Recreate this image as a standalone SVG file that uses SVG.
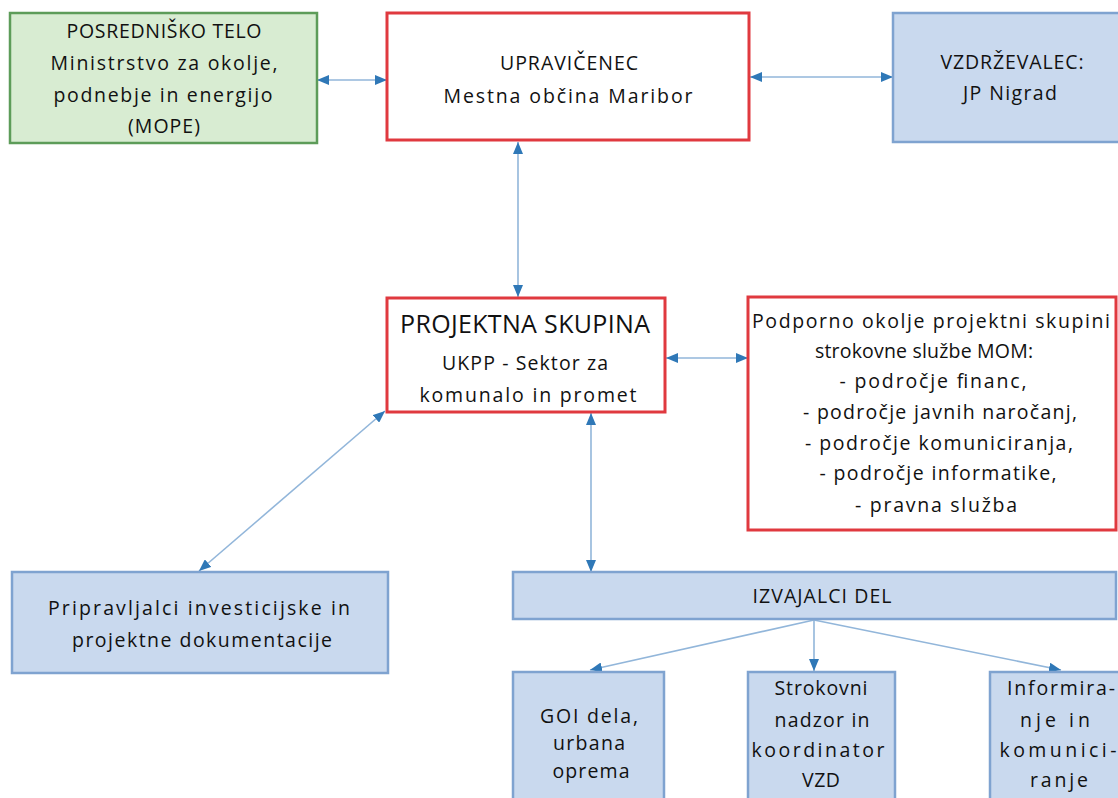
<svg xmlns="http://www.w3.org/2000/svg" width="1118" height="798" viewBox="0 0 1118 798">
<style>
text{font-family:"Open Sans","Liberation Sans",sans-serif;font-size:19.5px;fill:#111111;text-anchor:middle}
.big{font-size:25px}
.green{fill:#d8ecd2;stroke:#5d9c59;stroke-width:2.5}
.red{fill:#ffffff;stroke:#e0393f;stroke-width:3}
.blue{fill:#c9d9ee;stroke:#7fa3d0;stroke-width:2.5}
.con{stroke:#92b6da;stroke-width:1.6;fill:none}
</style>
<defs>
<marker id="ah" viewBox="0 0 12 10" refX="12" refY="5" markerWidth="12" markerHeight="10" markerUnits="userSpaceOnUse" orient="auto-start-reverse">
<path d="M0,0 L12,5 L0,10 z" fill="#2f78b7"/>
</marker>
</defs>
<rect width="1118" height="798" fill="#ffffff"/>
<g id="connectors">
<line class="con" x1="317" y1="80" x2="387" y2="80" marker-start="url(#ah)" marker-end="url(#ah)"/>
<line class="con" x1="750" y1="77" x2="893" y2="77" marker-start="url(#ah)" marker-end="url(#ah)"/>
<line class="con" x1="518" y1="142" x2="518" y2="297" marker-start="url(#ah)" marker-end="url(#ah)"/>
<line class="con" x1="666" y1="358" x2="748" y2="358" marker-start="url(#ah)" marker-end="url(#ah)"/>
<line class="con" x1="385" y1="411" x2="199" y2="571" marker-start="url(#ah)" marker-end="url(#ah)"/>
<line class="con" x1="591" y1="413" x2="591" y2="572" marker-start="url(#ah)" marker-end="url(#ah)"/>
<line class="con" x1="814" y1="620" x2="590" y2="670" marker-end="url(#ah)"/>
<line class="con" x1="814" y1="620" x2="814" y2="671" marker-end="url(#ah)"/>
<line class="con" x1="814" y1="620" x2="1061" y2="670" marker-end="url(#ah)"/>
</g>
<g id="posredniskoTelo">
<rect class="green" x="10" y="13" width="307" height="130"/>
<text x="164" y="38" textLength="195" lengthAdjust="spacing">POSREDNIŠKO TELO</text>
<text x="164" y="70" textLength="227" lengthAdjust="spacing">Ministrstvo za okolje,</text>
<text x="163" y="102" textLength="219" lengthAdjust="spacing">podnebje in energijo</text>
<text x="164" y="133" textLength="72" lengthAdjust="spacing">(MOPE)</text>
</g>
<g id="upravicenec">
<rect class="red" x="387" y="13" width="362" height="127"/>
<text x="569" y="70" textLength="138" lengthAdjust="spacing">UPRAVIČENEC</text>
<text x="568" y="103" textLength="249" lengthAdjust="spacing">Mestna občina Maribor</text>
</g>
<g id="vzdrzevalec">
<rect class="blue" x="893" y="13" width="238" height="129"/>
<text x="1012" y="69" textLength="143" lengthAdjust="spacing">VZDRŽEVALEC:</text>
<text x="1010" y="100" textLength="94" lengthAdjust="spacing">JP Nigrad</text>
</g>
<g id="projektnaSkupina">
<rect class="red" x="387" y="298" width="278" height="114"/>
<text class="big" x="525" y="333" textLength="250" lengthAdjust="spacing">PROJEKTNA SKUPINA</text>
<text x="525" y="370" textLength="166" lengthAdjust="spacing">UKPP - Sektor za</text>
<text x="528" y="402" textLength="217" lengthAdjust="spacing">komunalo in promet</text>
</g>
<g id="podpornoOkolje">
<rect class="red" x="748" y="297" width="368" height="233"/>
<text x="931" y="328" textLength="358" lengthAdjust="spacing">Podporno okolje projektni skupini</text>
<text x="924" y="358" textLength="218" lengthAdjust="spacing">strokovne službe MOM:</text>
<text x="933" y="388" textLength="187" lengthAdjust="spacing">- področje financ,</text>
<text x="940" y="419" textLength="274" lengthAdjust="spacing">- področje javnih naročanj,</text>
<text x="939" y="450" textLength="268" lengthAdjust="spacing">- področje komuniciranja,</text>
<text x="938" y="480" textLength="237" lengthAdjust="spacing">- področje informatike,</text>
<text x="936" y="512" textLength="162" lengthAdjust="spacing">- pravna služba</text>
</g>
<g id="pripravljalci">
<rect class="blue" x="12" y="572" width="376" height="101"/>
<text x="199" y="615" textLength="302" lengthAdjust="spacing">Pripravljalci investicijske in</text>
<text x="202" y="647" textLength="260" lengthAdjust="spacing">projektne dokumentacije</text>
</g>
<g id="izvajalciDel">
<rect class="blue" x="513" y="572" width="603" height="47"/>
<text x="822" y="603" textLength="139" lengthAdjust="spacing">IZVAJALCI DEL</text>
</g>
<g id="goiDela">
<rect class="blue" x="513" y="672" width="151" height="140"/>
<text x="589" y="723" textLength="98" lengthAdjust="spacing">GOI dela,</text>
<text x="589" y="750" textLength="72" lengthAdjust="spacing">urbana</text>
<text x="591" y="778" textLength="77" lengthAdjust="spacing">oprema</text>
</g>
<g id="strokovniNadzor">
<rect class="blue" x="748" y="672" width="147" height="140"/>
<text x="821" y="695" textLength="93" lengthAdjust="spacing">Strokovni</text>
<text x="822" y="727" textLength="95" lengthAdjust="spacing">nadzor in</text>
<text x="818" y="757" textLength="133" lengthAdjust="spacing">koordinator</text>
<text x="821" y="787" textLength="38" lengthAdjust="spacing">VZD</text>
</g>
<g id="informiranje">
<rect class="blue" x="990" y="672" width="142" height="140"/>
<text x="1061" y="695" textLength="108" lengthAdjust="spacing">Informira-</text>
<text x="1055" y="727" textLength="70" lengthAdjust="spacing">nje in</text>
<text x="1058" y="757" textLength="117" lengthAdjust="spacing">komunici-</text>
<text x="1059" y="787" textLength="58" lengthAdjust="spacing">ranje</text>
</g>
</svg>
